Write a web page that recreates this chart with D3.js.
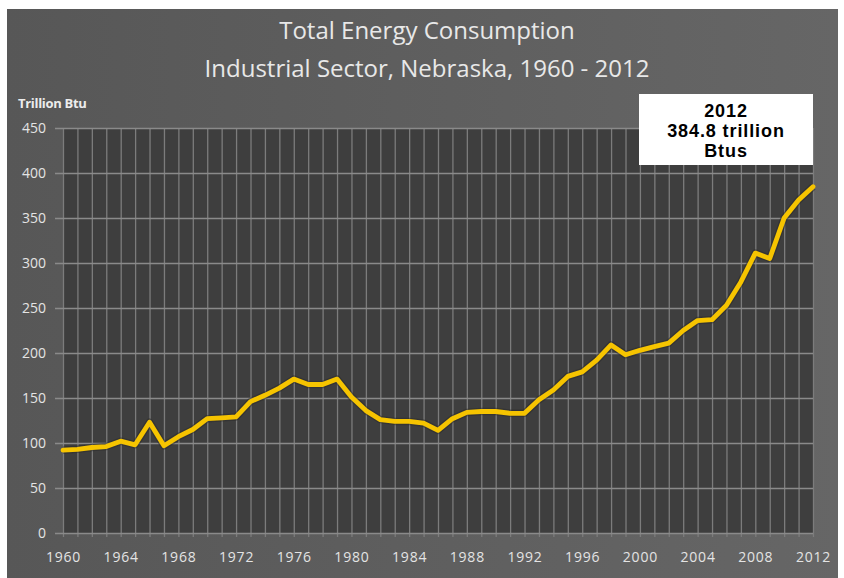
<!DOCTYPE html>
<html>
<head>
<meta charset="utf-8">
<script src="https://cdn.jsdelivr.net/npm/d3@7"></script>
<style>
  body { margin: 0; background: #fff; }
  svg { display: block; }
</style>
</head>
<body>
<svg id="chart" width="844" height="578"></svg>
<script>
// data
const years = d3.range(1960, 2013);
const consumption = [
  92, 93, 95, 96, 102, 98, 123, 97, 107, 115,
  127, 128, 129, 146, 153, 161, 171, 165, 165, 171,
  151, 136, 126, 124, 124, 122, 114, 127, 134, 135,
  135, 133, 133, 148, 159, 174, 179, 192, 209, 198,
  203, 207, 211, 225, 236, 237, 253, 279, 311, 305,
  350, 370, 384.8
];
const y_ticks = [0, 50, 100, 150, 200, 250, 300, 350, 400, 450];
const x_label_years = d3.range(1960, 2013, 4);
const titles = ["Total Energy Consumption", "Industrial Sector, Nebraska, 1960 - 2012"];
const note_lines = ["2012", "384.8 trillion", "Btus"];

const data = years.map(function (y, i) {
  return { year: y, value: consumption[i] };
});

const svg = d3.select("#chart");
const margin = { left: 63, right: 31, top: 128, bottom: 45 };
const width = 844, height = 578;

// background panel with a soft gradient
const defs = svg.append("defs");
const grad = defs.append("linearGradient").attr("id", "panel_grad")
  .attr("x1", "0%").attr("x2", "100%").attr("y1", "0%").attr("y2", "0%");
grad.append("stop").attr("offset", "0%").attr("stop-color", "#575757");
grad.append("stop").attr("offset", "100%").attr("stop-color", "#666666");

svg.append("rect")
  .attr("x", 7).attr("y", 9)
  .attr("width", 831).attr("height", height - 9)
  .attr("fill", "url(#panel_grad)");

// scales
const x_scale = d3.scaleLinear().domain([1960, 2012]).range([margin.left, width - margin.right]);
const y_scale = d3.scaleLinear().domain([0, 450]).range([height - margin.bottom, margin.top]);

// plot area
svg.append("rect")
  .attr("x", x_scale(1960)).attr("y", y_scale(450))
  .attr("width", x_scale(2012) - x_scale(1960))
  .attr("height", y_scale(0) - y_scale(450))
  .attr("fill", "#3e3e3e");

// vertical gridlines, one per year
svg.append("g")
  .attr("class", "x_grid")
  .attr("transform", "translate(0," + (y_scale(0) + 4) + ")")
  .call(d3.axisBottom(x_scale).tickValues(years).tickSize(-(y_scale(0) + 4 - y_scale(450))).tickSizeOuter(0).tickFormat(""))
  .call(function (g) {
    g.select(".domain").remove();
    g.selectAll("line").attr("stroke", "#7c7c7c").attr("stroke-width", 1.3);
  });

// horizontal gridlines
svg.append("g")
  .attr("class", "y_grid")
  .attr("transform", "translate(" + x_scale(2012) + ",0)")
  .call(d3.axisLeft(y_scale).tickValues(y_ticks).tickSize(x_scale(2012) - x_scale(1960) + 8).tickFormat(""))
  .call(function (g) {
    g.select(".domain").remove();
    g.selectAll("line").attr("stroke", "#8a8a8a").attr("stroke-width", 1.3);
  });

// y axis labels
svg.append("g")
  .attr("class", "y_axis")
  .attr("transform", "translate(" + (margin.left - 17) + ",0)")
  .call(d3.axisLeft(y_scale).tickValues(y_ticks).tickSize(0).tickPadding(0))
  .call(function (g) {
    g.select(".domain").remove();
    g.selectAll("text")
      .attr("fill", "#e4e4e4")
      .style("font-family", "'Open Sans', sans-serif")
      .style("font-size", "14px");
  });

// x axis labels
svg.append("g")
  .attr("class", "x_axis")
  .attr("transform", "translate(0," + (y_scale(0) + 14) + ")")
  .call(d3.axisBottom(x_scale).tickValues(x_label_years).tickFormat(d3.format("d")).tickSize(0).tickPadding(5))
  .call(function (g) {
    g.select(".domain").remove();
    g.selectAll("text")
      .attr("fill", "#e4e4e4")
      .style("font-family", "'Open Sans', sans-serif")
      .style("font-size", "14px")
      .style("letter-spacing", "0.8px");
  });

// axis unit
svg.append("text")
  .attr("x", 18).attr("y", 108)
  .attr("fill", "#ececec")
  .style("font-family", "'Open Sans', sans-serif")
  .style("font-size", "13px")
  .style("font-weight", "bold")
  .style("letter-spacing", "-0.3px")
  .text("Trillion Btu");

// titles
svg.append("g")
  .selectAll("text")
  .data(titles)
  .enter()
  .append("text")
  .attr("x", 427)
  .attr("y", function (d, i) { return 39 + i * 38; })
  .attr("text-anchor", "middle")
  .attr("fill", "#e8e8e8")
  .style("font-family", "'Open Sans', sans-serif")
  .style("font-size", "24px")
  .text(function (d) { return d; });

// the series line
const line = d3.line()
  .x(function (d) { return x_scale(d.year); })
  .y(function (d) { return y_scale(d.value); });

svg.append("path")
  .datum(data)
  .attr("fill", "none")
  .attr("stroke", "#2a2a2a")
  .attr("stroke-opacity", 0.5)
  .attr("stroke-width", 7.5)
  .attr("stroke-linejoin", "round")
  .attr("d", line);

svg.append("path")
  .datum(data)
  .attr("fill", "none")
  .attr("stroke", "#f6c400")
  .attr("stroke-width", 4.8)
  .attr("stroke-linejoin", "round")
  .attr("stroke-linecap", "round")
  .attr("d", line);

// callout box
const note = svg.append("g").attr("class", "note");
note.append("rect")
  .attr("x", 639).attr("y", 94)
  .attr("width", x_scale(2012) - 639).attr("height", 71)
  .attr("fill", "#ffffff");
note.selectAll("text")
  .data(note_lines)
  .enter()
  .append("text")
  .attr("x", (639 + x_scale(2012)) / 2)
  .attr("y", function (d, i) { return 117 + i * 20; })
  .attr("text-anchor", "middle")
  .attr("fill", "#000")
  .style("font-family", "'Liberation Sans', Arial, sans-serif")
  .style("font-size", "18px")
  .style("font-weight", "bold")
  .style("letter-spacing", "0.9px")
  .text(function (d) { return d; });
</script>
</body>
</html>
